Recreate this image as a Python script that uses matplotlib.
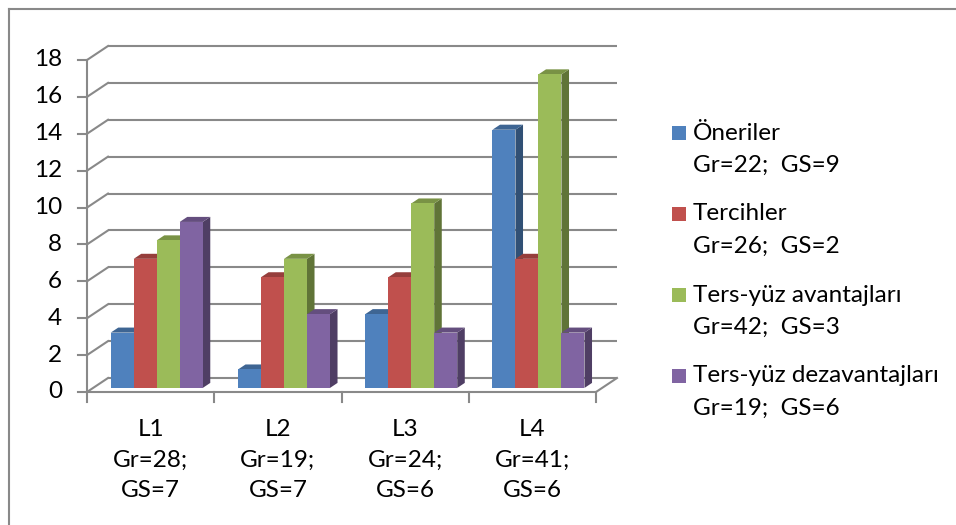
import matplotlib
matplotlib.use("Agg")
import matplotlib.pyplot as plt
from matplotlib.patches import Polygon, Rectangle
from matplotlib.lines import Line2D
import numpy as np

# ---- data ----
categories = ["L1\nGr=28;\nGS=7", "L2\nGr=19;\nGS=7", "L3\nGr=24;\nGS=6", "L4\nGr=41;\nGS=6"]
series_names = ["Öneriler\nGr=22;  GS=9", "Tercihler\nGr=26;  GS=2",
                "Ters-yüz avantajları\nGr=42;  GS=3", "Ters-yüz dezavantajları\nGr=19;  GS=6"]
oneriler = [3, 1, 4, 14]
tercihler = [7, 6, 6, 7]
avantaj = [8, 7, 10, 17]
dezavantaj = [9, 4, 3, 3]
y_ticks = [0, 2, 4, 6, 8, 10, 12, 14, 16, 18]

series = [oneriler, tercihler, avantaj, dezavantaj]
colors = ["#4F81BD", "#C0504D", "#9BBB59", "#8064A2"]

def shade(c, k):
    r, g, b = matplotlib.colors.to_rgb(c)
    return (r * k, g * k, b * k)

plt.rcParams["font.family"] = ["Lato", "DejaVu Sans"]
FS = 17.5
GRID = "#898989"
LW = 1.5

W, H = 956, 525
fig = plt.figure(figsize=(W / 100, H / 100), dpi=100)

def fx(px):
    return px / W

def fy(py):
    return 1 - py / H

# front plane: x 0..4 -> px 87..596, y 0..18 -> px 392..60
x_px0, x_px1 = 87, 596
y_px0, y_px18 = 392, 60
sx = (x_px1 - x_px0) / 4.0
sy = (y_px0 - y_px18) / 18.0
DX = 21 / sx      # wall depth, data units
DY = 14 / sy
xmax = 4 + DX
ymax = 18 + DY

ax = fig.add_axes([fx(x_px0), fy(y_px0), (xmax * sx) / W, (ymax * sy) / H])
ax.set_xlim(0, xmax)
ax.set_ylim(0, ymax)
ax.axis("off")

# back wall gridlines and side-wall diagonals
for v in y_ticks:
    ax.plot([DX, 4 + DX], [v + DY, v + DY], color=GRID, lw=LW, zorder=1,
            solid_capstyle="butt", clip_on=False)
    ax.plot([0, DX], [v, v + DY], color=GRID, lw=LW, zorder=1, clip_on=False)
    ax.plot([-9 / sx, 0], [v, v], color=GRID, lw=LW, zorder=1, clip_on=False)
    ax.text(-25 / sx, v, str(v), ha="right", va="center", fontsize=FS, color="black")

# front axis, floor edges
ax.plot([0, 0], [-10 / sy, 18], color=GRID, lw=LW, zorder=1, clip_on=False)
ax.plot([0, 4], [0, 0], color=GRID, lw=LW, zorder=1, clip_on=False)
ax.plot([4, 4 + DX], [0, DY], color=GRID, lw=LW, zorder=1, clip_on=False)
for i in range(1, 5):
    ax.plot([i, i], [-10 / sy, 0], color=GRID, lw=LW, zorder=1, clip_on=False)

# category labels
for i, lab in enumerate(categories):
    ax.text(i + 0.5, -27 / sy, lab, ha="center", va="top", fontsize=FS,
            linespacing=1.55, color="black")

# 3D-style bars
bw = 23 / sx
f_off = 0.29
depth = 0.36
ox, oy = f_off * DX, f_off * DY
ddx, ddy = depth * DX, depth * DY
for i in range(4):
    for j, vals in enumerate(series):
        v = vals[i]
        x0 = i + 0.5 + (j - 2) * bw + ox
        x1 = x0 + bw
        b = oy
        z = 3 + j * 3 + i * 20
        side = Polygon([(x1, b), (x1, v + b), (x1 + ddx, v + b + ddy), (x1 + ddx, b + ddy)],
                       closed=True, facecolor=shade(colors[j], 0.62), edgecolor="none", zorder=z)
        top = Polygon([(x0, v + b), (x1, v + b), (x1 + ddx, v + b + ddy), (x0 + ddx, v + b + ddy)],
                      closed=True, facecolor=shade(colors[j], 0.78), edgecolor="none", zorder=z + 1)
        ax.add_patch(side)
        ax.add_patch(top)
        ax.bar(x0, v, width=bw, bottom=b, align="edge", color=colors[j],
               edgecolor="none", zorder=z + 2)

# legend
leg_x, leg_y0, leg_step = 672, 133, 81
for j, name in enumerate(series_names):
    yc = leg_y0 + j * leg_step
    fig.add_artist(Rectangle((fx(leg_x), fy(yc + 7)), 14 / W, 14 / H,
                             facecolor=colors[j], edgecolor="none", transform=fig.transFigure))
    first, second = name.split("\n")
    fig.text(fx(693), fy(yc), first, ha="left", va="center", fontsize=FS)
    fig.text(fx(693), fy(yc + 32), second, ha="left", va="center", fontsize=FS)

# chart frame
fig.add_artist(Line2D([fx(9), fx(9)], [fy(9), 0], color=GRID, lw=LW, transform=fig.transFigure))
fig.add_artist(Line2D([fx(9), 1], [fy(9), fy(9)], color=GRID, lw=LW, transform=fig.transFigure))

fig.savefig("out.png", dpi=100)
